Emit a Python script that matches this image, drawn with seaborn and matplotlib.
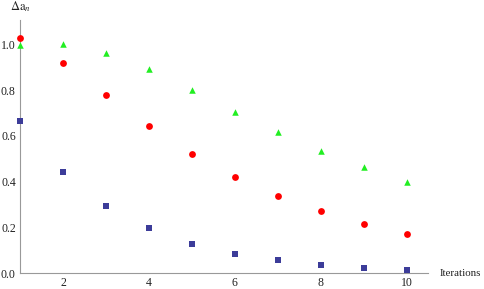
import pandas as pd
import seaborn as sns
import matplotlib.pyplot as plt
from matplotlib.ticker import MultipleLocator

iterations = [1, 2, 3, 4, 5, 6, 7, 8, 9, 10]
green_vals = [0.997, 1.001, 0.961, 0.891, 0.800, 0.706, 0.617, 0.535, 0.463, 0.397]
red_vals = [1.026, 0.917, 0.779, 0.643, 0.522, 0.419, 0.339, 0.272, 0.217, 0.173]
blue_vals = [0.666, 0.442, 0.294, 0.196, 0.129, 0.086, 0.058, 0.038, 0.025, 0.016]
series_names = ["green", "red", "blue"]

# long table for seaborn
df = pd.DataFrame({
    "x": iterations * 3,
    "y": green_vals + red_vals + blue_vals,
    "series": [s for s in series_names for _ in iterations],
})

sns.set_style("white")
plt.rcParams["font.family"] = ["Liberation Serif", "DejaVu Serif"]
plt.rcParams["mathtext.fontset"] = "stix"

fig = plt.figure(figsize=(4.85, 2.89), dpi=100)
ax = fig.add_axes([20 / 485, 1 - 273.3 / 289, 408 / 485, 253.3 / 289])

palette = {"green": "#22ee22", "red": "#ff0000", "blue": "#3c3c99"}
markers = {"green": "^", "red": "o", "blue": "s"}
sizes = {"green": 22, "red": 24, "blue": 16}

for name in series_names:
    sub = df[df["series"] == name]
    sns.scatterplot(data=sub, x="x", y="y", color=palette[name], marker=markers[name],
                    s=sizes[name], linewidth=0, ax=ax, legend=False, zorder=3, clip_on=False)

ax.set_xlim(1, 10.5)
ax.set_ylim(0, 1.106)
ax.xaxis.set_major_locator(MultipleLocator(2))
ax.xaxis.set_minor_locator(MultipleLocator(0.5))
ax.yaxis.set_major_locator(MultipleLocator(0.2))
ax.yaxis.set_minor_locator(MultipleLocator(0.05))
ax.yaxis.set_major_formatter(plt.FuncFormatter(lambda v, p: f"{v:.1f}"))
ax.set_xticks([2, 4, 6, 8, 10])

for side in ["top", "right"]:
    ax.spines[side].set_visible(False)
for side in ["left", "bottom"]:
    ax.spines[side].set_color("#999999")
    ax.spines[side].set_linewidth(0.8)

ax.tick_params(which="both", direction="in", color="#999999", labelsize=8.5,
               labelcolor="#222222", width=0.6)
ax.tick_params(which="major", length=4, pad=3)
ax.tick_params(which="minor", length=2.2)
ax.set_xlabel("")
ax.set_ylabel("")

fig.text(10 / 485, 1 - 7 / 289, r"$\Delta\mathrm{a}_{n}$", fontsize=9, color="#222222",
         ha="left", va="center")
fig.text(440 / 485, 1 - 274 / 289, "Iterations", fontsize=7.8, color="#222222",
         ha="left", va="center")

fig.savefig("out.png", dpi=100)
